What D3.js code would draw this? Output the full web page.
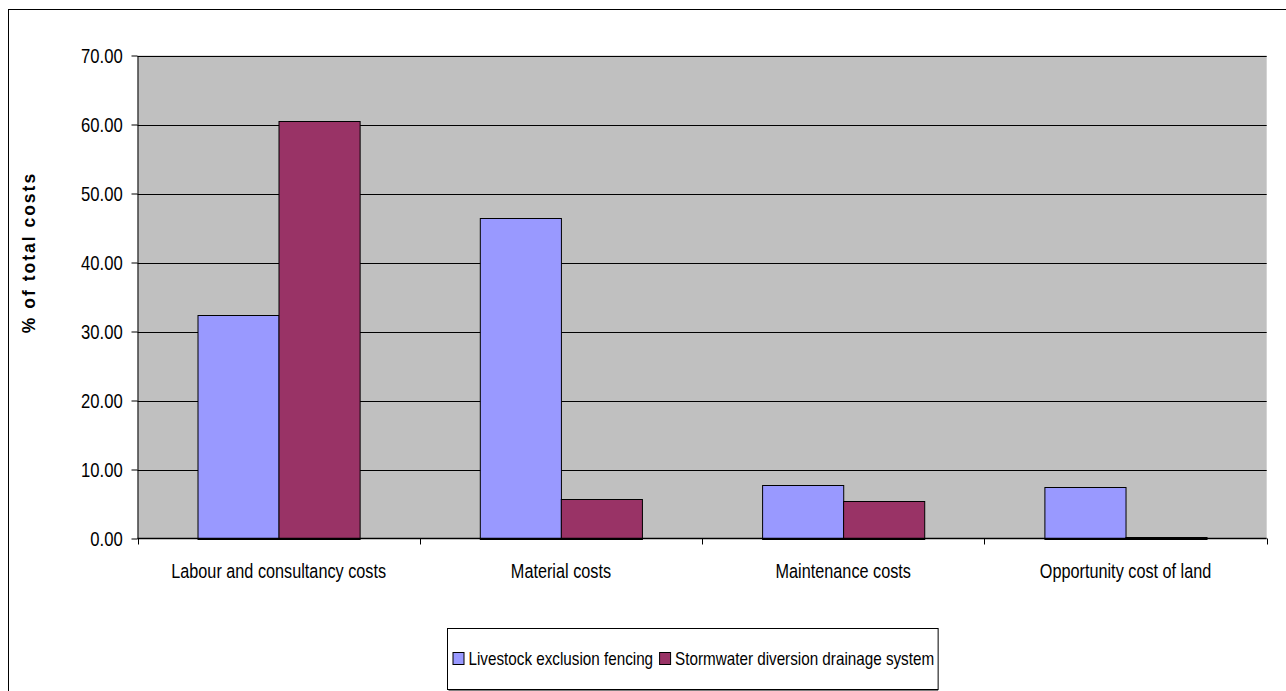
<!DOCTYPE html>
<html>
<head>
<meta charset="utf-8">
<script src="https://cdn.jsdelivr.net/npm/d3@7"></script>
<style>
  html, body { margin: 0; padding: 0; background: #fff; }
  svg { display: block; font-family: "Liberation Sans", Arial, sans-serif; }
</style>
</head>
<body>
<svg id="chart" width="1286" height="691"></svg>
<script>
const categories = ["Labour and consultancy costs", "Material costs", "Maintenance costs", "Opportunity cost of land"];
const seriesNames = ["Livestock exclusion fencing", "Stormwater diversion drainage system"];
const livestock = [32.35, 46.45, 7.75, 7.5];
const stormwater = [60.5, 5.77, 5.39, 0.26];
const yTicks = [0, 10, 20, 30, 40, 50, 60, 70];
const colors = ["#9999FF", "#993366"];

const SX = 0.833; // horizontal text compression seen in the reference
const svg = d3.select("#chart");

// outer chart border
svg.append("rect").attr("x", 8.5).attr("y", 9.5).attr("width", 1400).attr("height", 800)
  .attr("fill", "#fff").attr("stroke", "#000").attr("stroke-width", 1);

const plot = { left: 137.5, right: 1266.7, top: 55.5, bottom: 538.5 };

const x = d3.scaleBand().domain(categories).range([plot.left, plot.right]).paddingInner(0).paddingOuter(0);
const x1 = d3.scaleBand().domain(seriesNames).range([0, x.bandwidth()]).paddingInner(0).paddingOuter(0.74);
const y = d3.scaleLinear().domain([0, 70]).range([plot.bottom, plot.top]);

// plot background
svg.append("rect").attr("x", plot.left).attr("y", plot.top)
  .attr("width", plot.right - plot.left).attr("height", plot.bottom - plot.top)
  .attr("fill", "#C0C0C0");

// gridlines
svg.append("g").selectAll("line").data(yTicks.filter(d => d > 0)).join("line")
  .attr("x1", plot.left).attr("x2", plot.right)
  .attr("y1", d => Math.round(y(d)) + 0.5).attr("y2", d => Math.round(y(d)) + 0.5)
  .attr("stroke", "#000").attr("stroke-width", 1);

// bars
const data = categories.map((c, i) => ({ cat: c, vals: [livestock[i], stormwater[i]] }));
const groups = svg.append("g").selectAll("g").data(data).join("g")
  .attr("transform", d => `translate(${x(d.cat)},0)`);
groups.selectAll("rect").data(d => d.vals.map((v, j) => ({ name: seriesNames[j], v, j }))).join("rect")
  .attr("x", d => Math.round(x1(d.name)) + 0.5)
  .attr("y", d => Math.round(y(d.v)) + 0.5)
  .attr("width", x1.bandwidth())
  .attr("height", d => Math.max(0, Math.round(y(0)) - Math.round(y(d.v))))
  .attr("fill", d => colors[d.j])
  .attr("stroke", "#000").attr("stroke-width", 1);

// y axis
const yAxis = svg.append("g").attr("transform", `translate(${plot.left},0)`)
  .call(d3.axisLeft(y).tickValues(yTicks).tickFormat(d3.format(".2f")).tickSize(6).tickSizeOuter(0));
yAxis.select(".domain").attr("stroke", "#000");
yAxis.selectAll(".tick line").attr("stroke", "#000");
yAxis.selectAll(".tick text")
  .attr("x", -14.8 / SX).attr("dy", "0.35em")
  .attr("transform", `scale(${SX},1)`)
  .style("font-size", "20px").attr("fill", "#000");

// x axis
const xAxisG = svg.append("g");
xAxisG.append("line").attr("x1", plot.left).attr("x2", plot.right)
  .attr("y1", plot.bottom).attr("y2", plot.bottom).attr("stroke", "#000").attr("stroke-width", 1.5);
const boundaries = categories.map(c => x(c)).concat([plot.right]);
xAxisG.selectAll("line.tk").data(boundaries).join("line").attr("class", "tk")
  .attr("x1", d => Math.round(d) + 0.5).attr("x2", d => Math.round(d) + 0.5)
  .attr("y1", plot.bottom).attr("y2", plot.bottom + 6).attr("stroke", "#000");
xAxisG.selectAll("g.lbl").data(categories).join("g").attr("class", "lbl")
  .attr("transform", d => `translate(${x(d) + x.bandwidth() / 2},578.3) scale(${SX},1)`)
  .append("text").attr("text-anchor", "middle").style("font-size", "19.5px").attr("fill", "#000")
  .text(d => d);

// y title
svg.append("text")
  .attr("transform", "translate(35,252.5) rotate(-90)")
  .attr("text-anchor", "middle")
  .style("font-size", "17.5px").style("font-weight", "bold").style("letter-spacing", "2px")
  .attr("fill", "#000")
  .text("% of total costs");

// legend
const legend = svg.append("g");
const lgLeft = 447.5, lgTop = 628.5, lgH = 61;
const lgBox = legend.append("rect").attr("x", lgLeft).attr("y", lgTop).attr("height", lgH)
  .attr("fill", "#fff").attr("stroke", "#000").attr("stroke-width", 1);
let cx = lgLeft + 5;
seriesNames.forEach((name, i) => {
  legend.append("rect").attr("x", cx + 0.5).attr("y", 652.5).attr("width", 11).attr("height", 12)
    .attr("fill", colors[i]).attr("stroke", "#000").attr("stroke-width", 1);
  const tg = legend.append("g").attr("transform", `translate(${cx + 16},665) scale(${SX},1)`);
  const t = tg.append("text").style("font-size", "18.3px").attr("fill", "#000").text(name);
  const w = t.node().getComputedTextLength() * SX;
  cx = cx + 16 + w + 6;
});
lgBox.attr("width", cx - lgLeft - 2);
// subtle shadow on legend box
legend.append("line").attr("x1", lgLeft + 1).attr("x2", cx - 2).attr("y1", lgTop + lgH + 1).attr("y2", lgTop + lgH + 1)
  .attr("stroke", "#808080").attr("stroke-width", 1);
</script>
</body>
</html>
